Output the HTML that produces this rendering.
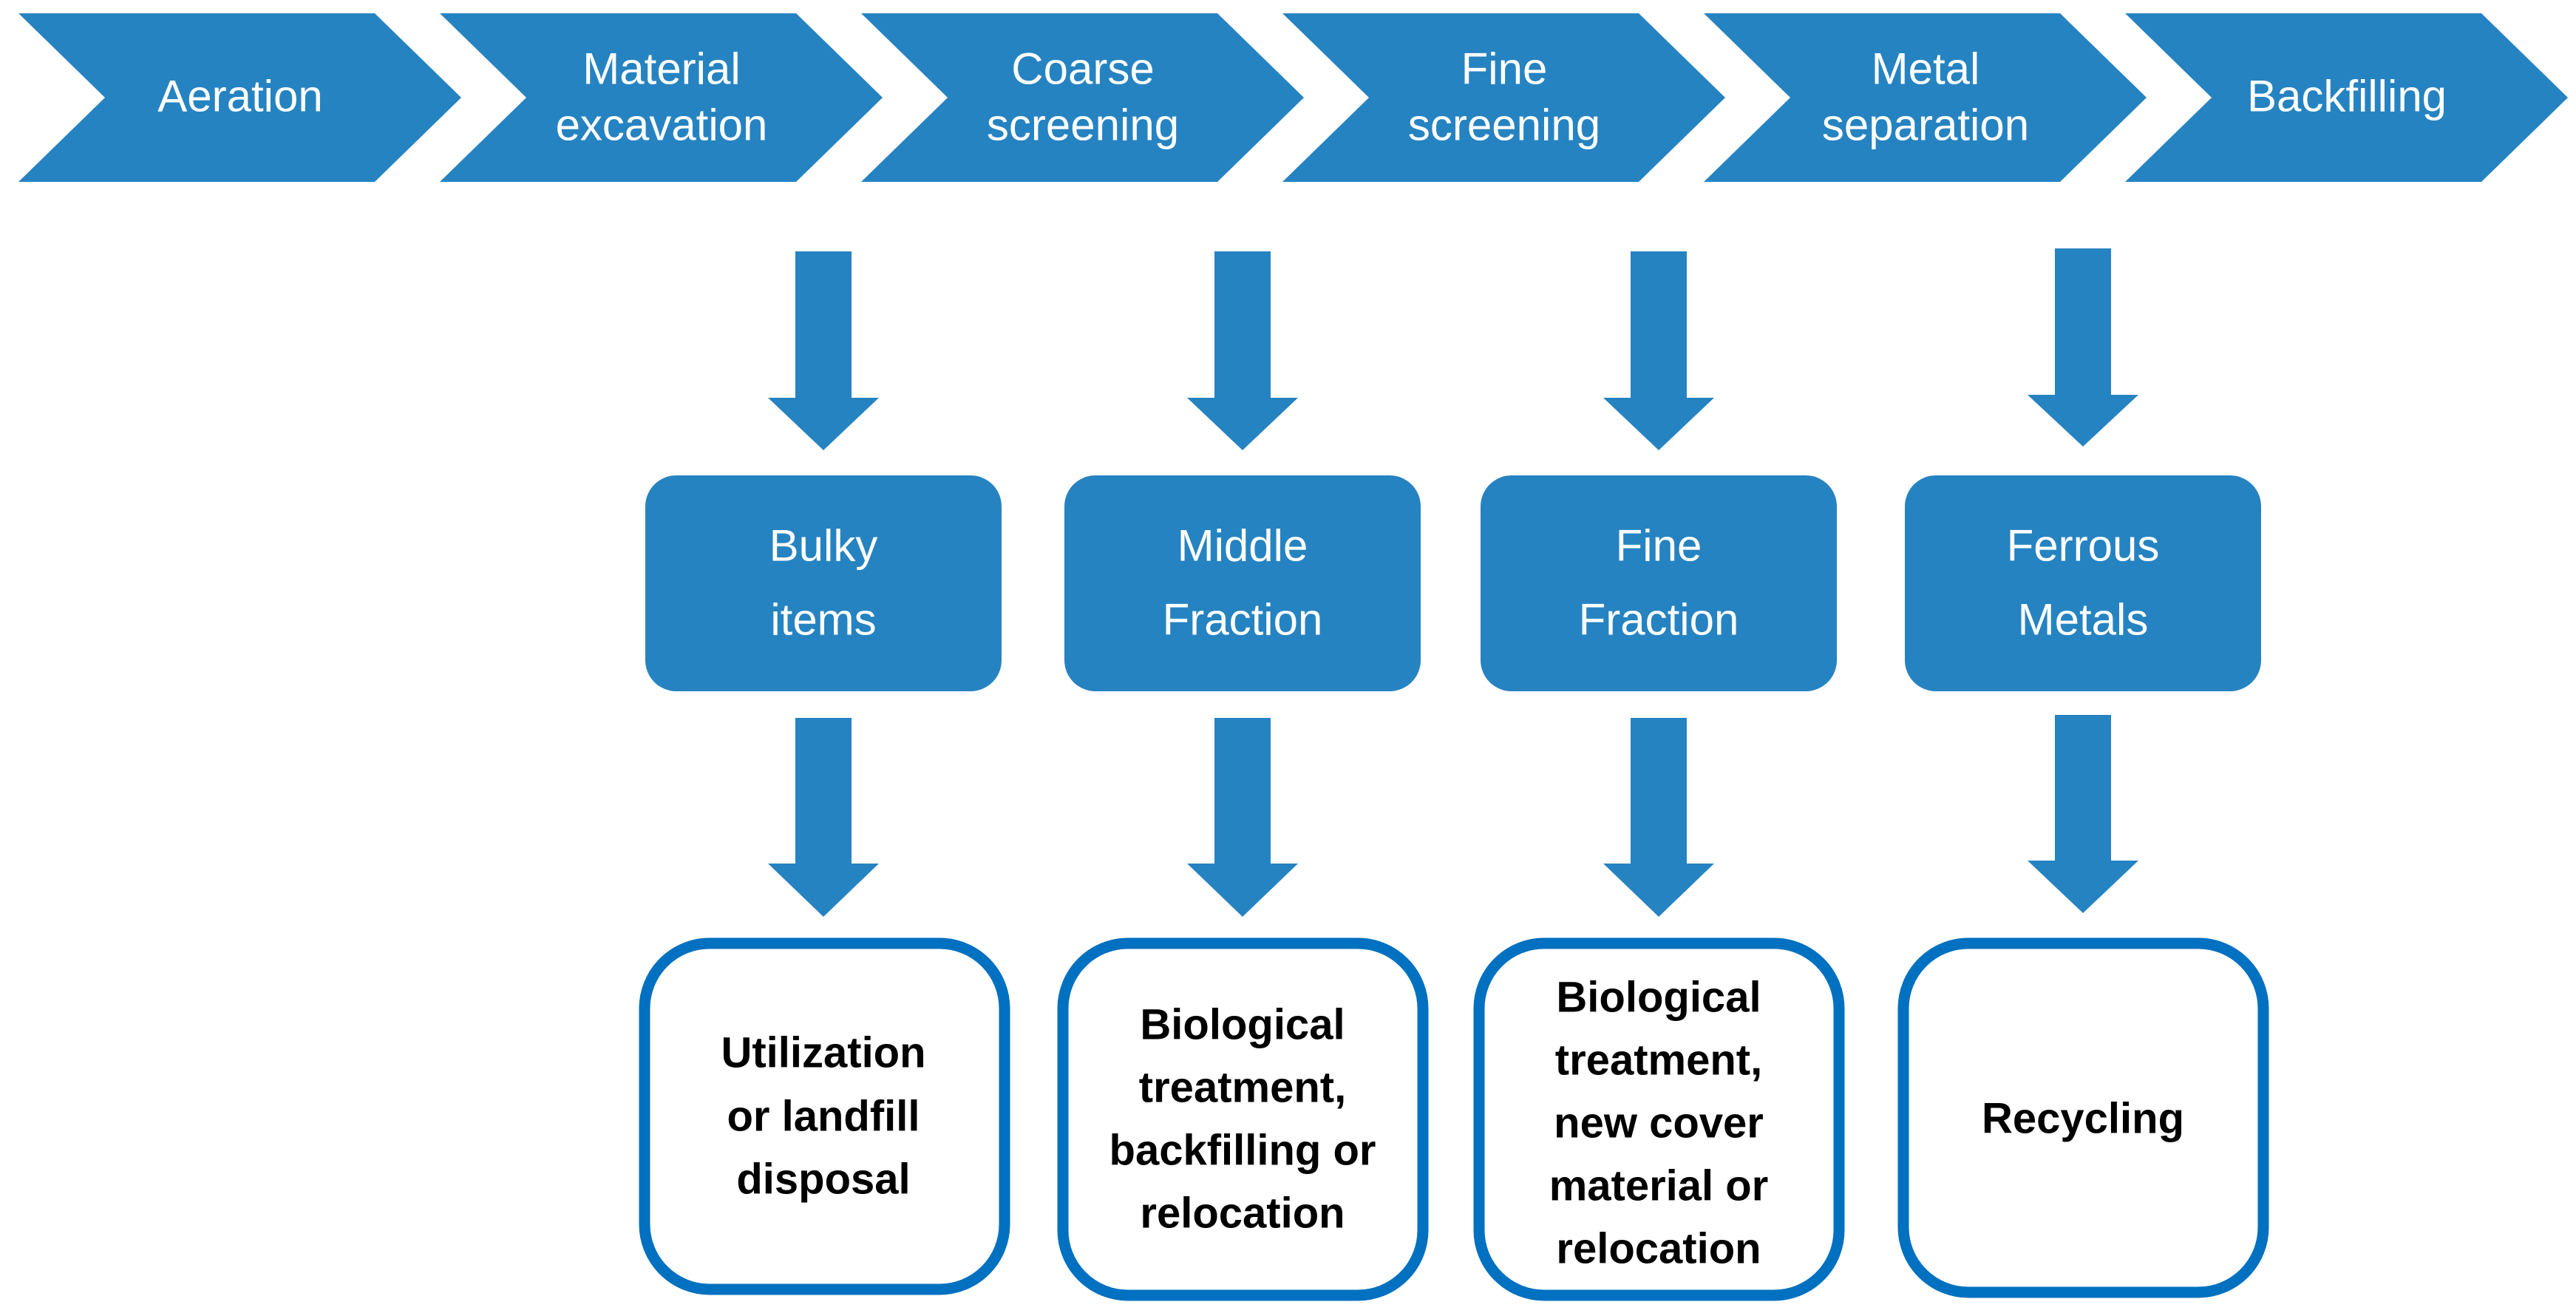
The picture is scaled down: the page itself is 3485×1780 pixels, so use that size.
<!DOCTYPE html>
<html><head><meta charset="utf-8"><style>
html,body{margin:0;padding:0;background:#fff;}
svg{display:block;}
text{font-family:"Liberation Sans",sans-serif;text-anchor:middle;dominant-baseline:central;}
.w{fill:#fff;font-size:60px;}
.b{fill:#000;font-size:58px;font-weight:bold;}
</style></head><body>
<svg width="3485" height="1780" viewBox="0 0 3485 1780" xmlns="http://www.w3.org/2000/svg">
<g fill="#2683C1">
<polygon points="25,18 507,18 624,132 507,246 25,246 142,132"/>
<polygon points="595,18 1077,18 1194,132 1077,246 595,246 712,132"/>
<polygon points="1165,18 1647,18 1764,132 1647,246 1165,246 1282,132"/>
<polygon points="1735,18 2217,18 2334,132 2217,246 1735,246 1852,132"/>
<polygon points="2305,18 2787,18 2904,132 2787,246 2305,246 2422,132"/>
<polygon points="2875,18 3357,18 3474,132 3357,246 2875,246 2992,132"/>
</g>
<text class="w" x="325" y="130">Aeration</text>
<text class="w" x="895" y="93">Material</text><text class="w" x="895" y="169">excavation</text>
<text class="w" x="1465" y="93">Coarse</text><text class="w" x="1465" y="169">screening</text>
<text class="w" x="2035" y="93">Fine</text><text class="w" x="2035" y="169">screening</text>
<text class="w" x="2605" y="93">Metal</text><text class="w" x="2605" y="169">separation</text>
<text class="w" x="3175" y="130">Backfilling</text>

<g fill="#2683C1">
<!-- top arrows -->
<polygon points="1076,340 1152,340 1152,538 1189,538 1114,609 1039,538 1076,538"/>
<polygon points="1643,340 1719,340 1719,538 1756,538 1681,609 1606,538 1643,538"/>
<polygon points="2206,340 2282,340 2282,538 2319,538 2244,609 2169,538 2206,538"/>
<polygon points="2780,336 2856,336 2856,534 2893,534 2818,604 2743,534 2780,534"/>
<!-- bottom arrows -->
<polygon points="1076,971 1152,971 1152,1168 1189,1168 1114,1240 1039,1168 1076,1168"/>
<polygon points="1643,971 1719,971 1719,1168 1756,1168 1681,1240 1606,1168 1643,1168"/>
<polygon points="2206,971 2282,971 2282,1168 2319,1168 2244,1240 2169,1168 2206,1168"/>
<polygon points="2780,967 2856,967 2856,1164 2893,1164 2818,1235 2743,1164 2780,1164"/>
<!-- middle boxes -->
<rect x="873" y="643" width="482" height="292" rx="42"/>
<rect x="1440" y="643" width="482" height="292" rx="42"/>
<rect x="2003" y="643" width="482" height="292" rx="42"/>
<rect x="2577" y="643" width="482" height="292" rx="42"/>
</g>
<text class="w" x="1114" y="738">Bulky</text><text class="w" x="1114" y="838">items</text>
<text class="w" x="1681" y="738">Middle</text><text class="w" x="1681" y="838">Fraction</text>
<text class="w" x="2244" y="738">Fine</text><text class="w" x="2244" y="838">Fraction</text>
<text class="w" x="2818" y="738">Ferrous</text><text class="w" x="2818" y="838">Metals</text>

<g fill="#fff" stroke="#0070C0" stroke-width="15">
<rect x="872" y="1276" width="487" height="468" rx="88"/>
<rect x="1438" y="1276" width="487" height="476" rx="88"/>
<rect x="2001" y="1276" width="487" height="476" rx="88"/>
<rect x="2575" y="1276" width="487" height="472" rx="88"/>
</g>
<text class="b" x="1114" y="1424">Utilization</text>
<text class="b" x="1114" y="1510">or landfill</text>
<text class="b" x="1114" y="1595">disposal</text>

<text class="b" x="1681" y="1386">Biological</text>
<text class="b" x="1681" y="1471">treatment,</text>
<text class="b" x="1681" y="1556">backfilling or</text>
<text class="b" x="1681" y="1641">relocation</text>

<text class="b" x="2244" y="1349">Biological</text>
<text class="b" x="2244" y="1434">treatment,</text>
<text class="b" x="2244" y="1519">new cover</text>
<text class="b" x="2244" y="1604">material or</text>
<text class="b" x="2244" y="1689">relocation</text>

<text class="b" x="2818" y="1513">Recycling</text>
</svg>
</body></html>
